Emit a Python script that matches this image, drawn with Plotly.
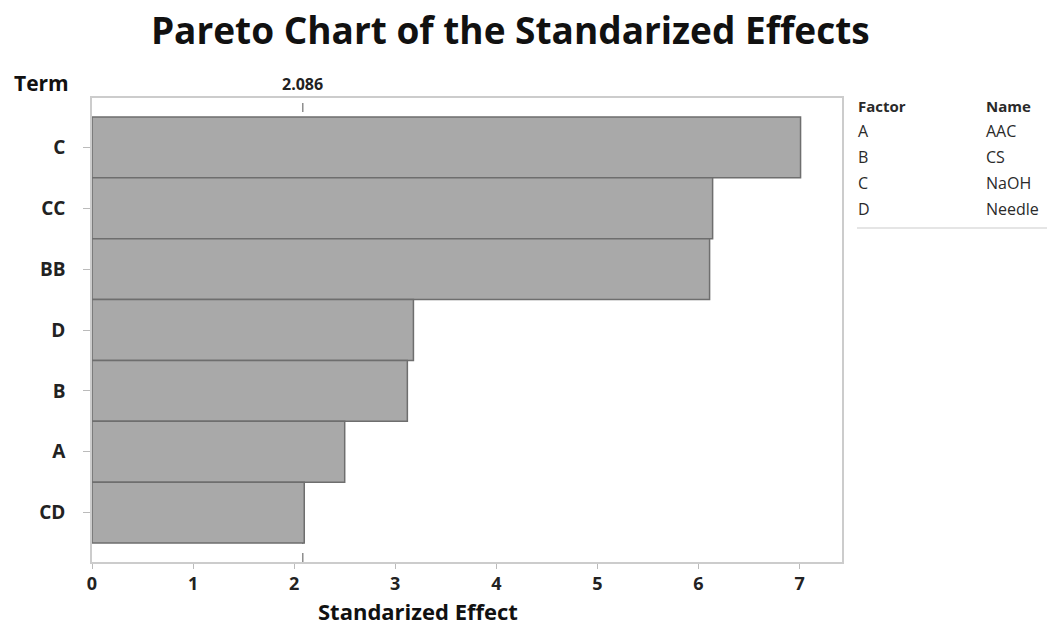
import plotly.graph_objects as go

# Standardized effects for each model term (largest first)
terms = ["C", "CC", "BB", "D", "B", "A", "CD"]
effects = [7.01, 6.14, 6.11, 3.18, 3.12, 2.50, 2.10]
critical_value = 2.086

factors = ["A", "B", "C", "D"]
factor_names = ["AAC", "CS", "NaOH", "Needle"]

x_ticks = [0, 1, 2, 3, 4, 5, 6, 7]

FONT = "Open Sans"
W, H = 1050, 629
ML, MR, MT, MB = 92, 208, 98, 67

fig = go.Figure()

fig.add_trace(go.Bar(
    x=effects,
    y=list(range(len(terms))),
    orientation="h",
    width=1.0,
    marker=dict(color="#a9a9a9", line=dict(color="#6e6e6e", width=1.5)),
    hoverinfo="x+y",
    showlegend=False,
))

# Reference line at the critical t value
fig.add_shape(type="line", xref="x", yref="paper",
              x0=critical_value, x1=critical_value, y0=0, y1=1,
              line=dict(color="#555555", width=1, dash="dash"), layer="below")
fig.add_annotation(x=critical_value, xref="x", y=1, yref="paper",
                   text=f"<b>{critical_value}</b>", showarrow=False, yanchor="bottom",
                   yshift=1, font=dict(family=FONT, size=16, color="#222"))

fig.update_layout(
    width=W, height=H,
    margin=dict(l=ML, r=MR, t=MT, b=MB),
    paper_bgcolor="white",
    plot_bgcolor="white",
    title=dict(text="<b>Pareto Chart of the Standarized Effects</b>",
               x=0.486, xanchor="center", y=0.95, yanchor="middle",
               font=dict(family=FONT, size=37, color="#111")),
    font=dict(family=FONT, color="#222"),
    xaxis=dict(
        range=[0, 7.42], tickvals=x_ticks, ticktext=[f"<b>{v}</b>" for v in x_ticks],
        ticks="outside", ticklen=5, tickcolor="#bbbbbb",
        showgrid=False, zeroline=False,
        showline=True, linecolor="#cccccc", linewidth=1.5, mirror=True,
        tickfont=dict(family=FONT, size=18, color="#222"),
    ),
    yaxis=dict(
        range=[6.81, -0.81], tickvals=list(range(len(terms))),
        ticktext=[f"<b>{t}</b>" for t in terms],
        ticks="outside", ticklen=7, tickcolor="#bbbbbb",
        ticklabelstandoff=14,
        showgrid=False, zeroline=False,
        showline=True, linecolor="#cccccc", linewidth=1.5, mirror=True,
        tickfont=dict(family=FONT, size=19, color="#222"),
    ),
)

plot_w = W - ML - MR
plot_h = H - MT - MB


def ax(px):
    """Page pixel x -> paper coordinate."""
    return (px - ML) / plot_w


def ay(py):
    """Page pixel y -> paper coordinate."""
    return (H - MB - py) / plot_h


# Axis titles
fig.add_annotation(x=ax(12), y=ay(83), xref="paper", yref="paper",
                   text="<b>Term</b>", showarrow=False, xanchor="left", yanchor="middle",
                   font=dict(family=FONT, size=21, color="#111"))
fig.add_annotation(x=ax(418), y=ay(611), xref="paper", yref="paper",
                   text="<b>Standarized Effect</b>", showarrow=False,
                   xanchor="center", yanchor="middle",
                   font=dict(family=FONT, size=22, color="#111"))

# Factor / name key table
rows_y = [106, 131, 157, 183, 209]
col1 = ["<b>Factor</b>"] + factors
col2 = ["<b>Name</b>"] + factor_names
for i, (yy, a, b) in enumerate(zip(rows_y, col1, col2)):
    size = 15 if i == 0 else 16
    fig.add_annotation(x=ax(856), y=ay(yy), xref="paper", yref="paper", text=a,
                       showarrow=False, xanchor="left", yanchor="middle",
                       font=dict(family=FONT, size=size, color="#2a2a2a"))
    fig.add_annotation(x=ax(984), y=ay(yy), xref="paper", yref="paper", text=b,
                       showarrow=False, xanchor="left", yanchor="middle",
                       font=dict(family=FONT, size=size, color="#2a2a2a"))
fig.add_shape(type="line", xref="paper", yref="paper",
              x0=ax(857), x1=ax(1047), y0=ay(228), y1=ay(228),
              line=dict(color="#dddddd", width=1.5))

fig.write_html("out.html")
